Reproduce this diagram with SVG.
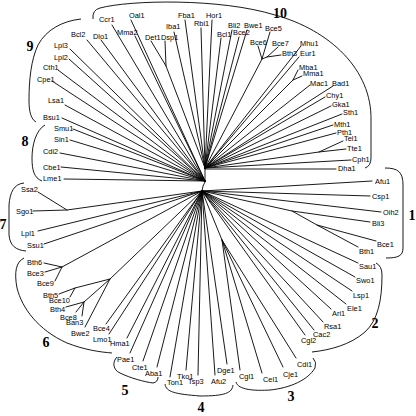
<svg xmlns="http://www.w3.org/2000/svg" width="416" height="416" viewBox="0 0 416 416">
<style>
.e{stroke:#000;stroke-width:0.9;fill:none;stroke-linecap:round}
.b{stroke:#000;stroke-width:0.9;fill:none}
text{font-family:"Liberation Sans",Arial,sans-serif;font-size:7.4px;fill:#000}
.n{font-family:"Liberation Serif","Times New Roman",serif;font-size:14px;font-weight:bold;text-anchor:middle}
</style>
<rect width="416" height="416" fill="#fff"/>
<g id="connectors">
<path class="e" d="M205,168 L205,182 L203,186 L202,191"/>
<!-- U2 -->
<path class="e" d="M205,181 L112,25 M205,181 L131,20 M205,181 L135,36 M205,181 L87,40 M205,181 L101,40 M205,181 L70,49 M205,181 L69,59 M205,181 L58,70 M205,181 L52,81 M205,181 L65,105 M205,181 L62,118 M205,181 L73,129 M205,181 L70,140 M205,181 L60,153 M205,181 L61,167 M205,181 L64,179"/>
<!-- U1 -->
<path class="e" d="M205,168 L166,66 L151,41 M166,66 L165,41 M205,168 L174,32 M205,168 L185,20 M205,168 L201,28 M205,168 L212,20 M205,168 L221,38 M205,168 L232,30 M205,168 L239,37 M205,168 L247,30 M205,168 L262,59 L258,46 M262,59 L270,32 M262,59 L267,57 L278,47 M267,57 L281,55 M205,168 L301,46 M205,168 L299,57 M205,168 L293,80 L298,70 M293,80 L302,76 M205,168 L310,85 M205,168 L333,86 M205,168 L325,97 M205,168 L331,106 M205,168 L342,114 M205,168 L333,125 M205,168 L336,133 M205,168 L319,152 L343,141 M319,152 L346,149 M205,168 L351,160 M205,169 L336,169"/>
<!-- L -->
<path class="e" d="M202,191 L372,181 M202,191 L370,196 M202,191 L381,212 M202,191 L292,211 L370,222 M292,211 L317,225 L376,241 M317,225 L358,247 M202,191 L358,263 M202,191 L355,277 M202,191 L352,291 M202,191 L346,304 M202,191 L331,309 M202,191 L323,322 M202,191 L314,330 M202,191 L305,335 M202,191 L222,240 L296,358 M222,240 L283,367 M222,240 L262,373 M222,240 L240,370 M202,191 L227,364 M202,191 L215,375 M202,191 L198,375 M202,191 L186,370 M202,191 L170,377 M202,191 L157,367 M202,191 L143,361 M202,191 L130,353 M202,191 L127,338 M202,191 L109,334 M202,191 L106,324 M202,191 L110,279 L85,327 M110,279 L84,302 L66,307 M84,302 L76,312 M84,302 L82,316 M110,279 L75,288 L59,294 M75,288 L70,297 M202,191 L62,267 L44,263 M62,267 L45,272 M62,267 L55,281 M202,191 L44,244 M202,191 L38,231 M202,191 L67,210 L33,211 M67,210 L38,192"/>
</g>
<g id="brackets">
<path id="br10" class="b" d="M93,19 Q92,10 100,8 C130,0 220,-2 275,15 C330,30 372,70 371,120 L371,158 Q371,166 365,168"/>
<path id="br9" class="b" d="M81,19 C62,21 46,30 38,45 C31,60 29,80 29,100 C29,112 31,119 36,122"/>
<path id="br8" class="b" d="M45,125 C36,130 32,145 32,158 C32,170 34,178 42,181"/>
<path id="br7" class="b" d="M24,183 C14,184 10,192 9,205 L9,235 C10,246 16,250 26,251"/>
<path id="br6" class="b" d="M24,258 C16,262 14,272 17,288 C22,308 38,330 67,343 C85,350 100,352 112,353"/>
<path id="br5" class="b" d="M117,357 C112,362 113,370 120,373 C130,378 145,382 153,383 Q158,382 158,377"/>
<path id="br4" class="b" d="M165,384 C166,392 175,394 200,396 C225,396 232,393 233,385"/>
<path id="br3" class="b" d="M236,382 C238,390 255,391 270,390 C290,388 308,380 315,368 Q317,362 313,358"/>
<path id="br2" class="b" d="M376,263 Q382,266 382,275 C382,300 378,320 365,332 C350,345 330,350 312,352"/>
<path id="br1" class="b" d="M385,168 C398,168 403,172 403,185 L403,248 C403,256 398,258 386,258"/>
</g>
<g id="cluster-labels">
<text class="n" x="412" y="220">1</text>
<text class="n" x="375" y="328">2</text>
<text class="n" x="291" y="401">3</text>
<text class="n" x="201" y="412">4</text>
<text class="n" x="125" y="395">5</text>
<text class="n" x="46" y="347">6</text>
<text class="n" x="3" y="229">7</text>
<text class="n" x="25" y="146">8</text>
<text class="n" x="30" y="51">9</text>
<text class="n" x="280" y="18">10</text>
</g>
<g id="leaves">
<g id="n-Ccr1"><text x="99" y="21.7">Ccr1</text></g>
<g id="n-Oal1"><text x="129" y="17.7">Oal1</text></g>
<g id="n-Mma2"><text x="117" y="34.7">Mma2</text></g>
<g id="n-Bcl2"><text x="71" y="36.7">Bcl2</text></g>
<g id="n-Dlo1"><text x="93" y="38.7">Dlo1</text></g>
<g id="n-Lpl3"><text x="54" y="47.7">Lpl3</text></g>
<g id="n-Lpl2"><text x="54" y="59.7">Lpl2</text></g>
<g id="n-Cth1"><text x="43" y="69.7">Cth1</text></g>
<g id="n-Cpe1"><text x="37" y="81.7">Cpe1</text></g>
<g id="n-Lsa1"><text x="48" y="102.7">Lsa1</text></g>
<g id="n-Bsu1"><text x="43" y="119.7">Bsu1</text></g>
<g id="n-Smu1"><text x="54" y="130.7">Smu1</text></g>
<g id="n-Sin1"><text x="54" y="141.7">Sin1</text></g>
<g id="n-Cdi2"><text x="43" y="153.7">Cdi2</text></g>
<g id="n-Cbe1"><text x="43" y="169.7">Cbe1</text></g>
<g id="n-Lme1"><text x="43" y="180.7">Lme1</text></g>
<g id="n-Ssa2"><text x="21" y="191.7">Ssa2</text></g>
<g id="n-Sgo1"><text x="16" y="213.7">Sgo1</text></g>
<g id="n-Lpl1"><text x="21" y="235.7">Lpl1</text></g>
<g id="n-Ssu1"><text x="27" y="247.7">Ssu1</text></g>
<g id="n-Bth6"><text x="27" y="264.7">Bth6</text></g>
<g id="n-Bce3"><text x="27" y="275.7">Bce3</text></g>
<g id="n-Bce9"><text x="37" y="285.7">Bce9</text></g>
<g id="n-Bth5"><text x="43" y="297.7">Bth5</text></g>
<g id="n-Bce10"><text x="49" y="302.7">Bce10</text></g>
<g id="n-Bth4"><text x="50" y="311.7">Bth4</text></g>
<g id="n-Bce8"><text x="60" y="319.7">Bce8</text></g>
<g id="n-Ban3"><text x="66" y="324.7">Ban3</text></g>
<g id="n-Bwe2"><text x="71" y="335.7">Bwe2</text></g>
<g id="n-Bce4"><text x="93" y="330.7">Bce4</text></g>
<g id="n-Lmo1"><text x="93" y="341.7">Lmo1</text></g>
<g id="n-Hma1"><text x="110" y="345.7">Hma1</text></g>
<g id="n-Pae1"><text x="117" y="361.7">Pae1</text></g>
<g id="n-Cte1"><text x="132" y="369.7">Cte1</text></g>
<g id="n-Aba1"><text x="145" y="375.7">Aba1</text></g>
<g id="n-Ton1"><text x="167" y="384.7">Ton1</text></g>
<g id="n-Tko1"><text x="177" y="378.7">Tko1</text></g>
<g id="n-Tsp3"><text x="188" y="383.7">Tsp3</text></g>
<g id="n-Afu2"><text x="211" y="383.7">Afu2</text></g>
<g id="n-Dge1"><text x="217" y="372.7">Dge1</text></g>
<g id="n-Cgl1"><text x="239" y="378.7">Cgl1</text></g>
<g id="n-Cel1"><text x="263" y="381.7">Cel1</text></g>
<g id="n-Cje1"><text x="283" y="376.7">Cje1</text></g>
<g id="n-Cdi1"><text x="297" y="366.7">Cdi1</text></g>
<g id="n-Cgl2"><text x="301" y="342.7">Cgl2</text></g>
<g id="n-Cac2"><text x="313" y="336.7">Cac2</text></g>
<g id="n-Rsa1"><text x="324" y="328.7">Rsa1</text></g>
<g id="n-Ari1"><text x="332" y="315.7">Ari1</text></g>
<g id="n-Ele1"><text x="347" y="310.7">Ele1</text></g>
<g id="n-Lsp1"><text x="353" y="297.7">Lsp1</text></g>
<g id="n-Swo1"><text x="356" y="282.7">Swo1</text></g>
<g id="n-Sau1"><text x="359" y="268.7">Sau1</text></g>
<g id="n-Bth1"><text x="359" y="253.7">Bth1</text></g>
<g id="n-Bce1"><text x="377" y="246.7">Bce1</text></g>
<g id="n-Bli3"><text x="372" y="225.7">Bli3</text></g>
<g id="n-Oih2"><text x="383" y="214.7">Oih2</text></g>
<g id="n-Csp1"><text x="372" y="198.7">Csp1</text></g>
<g id="n-Afu1"><text x="375" y="183.7">Afu1</text></g>
<g id="n-Dha1"><text x="338" y="170.7">Dha1</text></g>
<g id="n-Cph1"><text x="352" y="161.7">Cph1</text></g>
<g id="n-Tte1"><text x="347" y="150.7">Tte1</text></g>
<g id="n-Tel1"><text x="344" y="140.7">Tel1</text></g>
<g id="n-Pth1"><text x="337" y="134.7">Pth1</text></g>
<g id="n-Mth1"><text x="334" y="126.7">Mth1</text></g>
<g id="n-Sth1"><text x="343" y="114.7">Sth1</text></g>
<g id="n-Gka1"><text x="332" y="106.7">Gka1</text></g>
<g id="n-Chy1"><text x="326" y="97.7">Chy1</text></g>
<g id="n-Bad1"><text x="332" y="85.7">Bad1</text></g>
<g id="n-Mac1"><text x="310" y="85.7">Mac1</text></g>
<g id="n-Mma1"><text x="303" y="75.7">Mma1</text></g>
<g id="n-Mba1"><text x="299" y="69.7">Mba1</text></g>
<g id="n-Eur1"><text x="300" y="55.7">Eur1</text></g>
<g id="n-Mhu1"><text x="300" y="45.7">Mhu1</text></g>
<g id="n-Bth3"><text x="282" y="55.7">Bth3</text></g>
<g id="n-Bce7"><text x="272" y="45.7">Bce7</text></g>
<g id="n-Bce6"><text x="250" y="44.7">Bce6</text></g>
<g id="n-Bce5"><text x="265" y="30.7">Bce5</text></g>
<g id="n-Bwe1"><text x="244" y="27.7">Bwe1</text></g>
<g id="n-Bce2"><text x="233" y="34.7">Bce2</text></g>
<g id="n-Bli2"><text x="228" y="27.7">Bli2</text></g>
<g id="n-Bcl1"><text x="217" y="36.7">Bcl1</text></g>
<g id="n-Hor1"><text x="206" y="17.7">Hor1</text></g>
<g id="n-Rbi1"><text x="194" y="25.7">Rbi1</text></g>
<g id="n-Fba1"><text x="178" y="17.7">Fba1</text></g>
<g id="n-Iba1"><text x="166" y="28.7">Iba1</text></g>
<g id="n-Dsp1"><text x="161" y="39.7">Dsp1</text></g>
<g id="n-Det1"><text x="145" y="39.7">Det1</text></g>
</g>
</svg>
